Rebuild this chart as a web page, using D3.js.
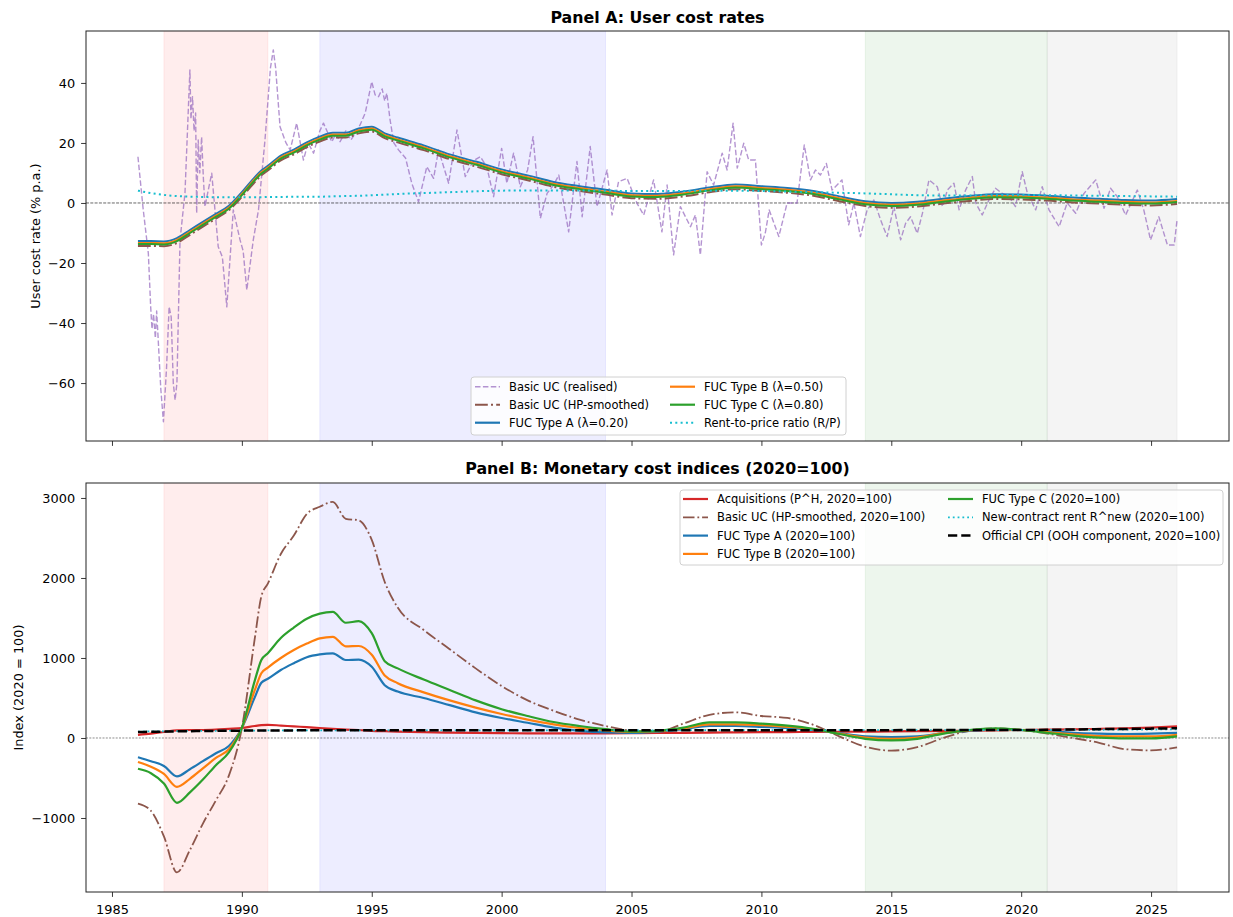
<!DOCTYPE html>
<html>
<head>
<meta charset="utf-8">
<script src="https://cdn.jsdelivr.net/npm/d3@7"></script>
<style>
body{margin:0;background:#fff;}
svg text{font-family:"DejaVu Sans",sans-serif;fill:#000;}
</style>
</head>
<body>
<svg id="chart" width="1233" height="917"></svg>
<script>
// realised basic user cost (irregular sampling)
var realisedYears = [1986.0,1986.2,1986.4,1986.49,1986.54,1986.6,1986.67,1986.72,1986.77,1986.88,1986.98,1987.1,1987.2,1987.28,1987.36,1987.43,1987.5,1987.62,1987.81,
  1988.0,1988.04,1988.1,1988.16,1988.22,1988.26,1988.32,1988.38,1988.45,1988.52,1988.58,1988.7,1988.84,1989.09,1989.25,1989.42,1989.67,1989.93,
  1990.05,1990.19,1990.44,1990.64,1990.89,1991.1,1991.21,1991.3,1991.47,1991.7,1991.86,1992.11,1992.37,1992.55,1992.76,1993.0,1993.14,1993.46,1993.62,1993.78,
  1994.0,1994.2,1994.35,1994.55,1994.75,1995.0,1995.13,1995.26,1995.4,1995.5,1995.58,1995.7,1995.85,1996.03,1996.3,1996.54,1996.8,1997.12,1997.38,1997.57,1997.96,
  1998.28,1998.6,1998.9,1999.18,1999.43,1999.69,2000.0,2000.2,2000.46,2000.72,2001.0,2001.21,2001.49,2001.75,2002.0,2002.2,2002.58,2002.9,2003.1,2003.41,2003.67,
  2004.06,2004.25,2004.5,2004.83,2005.21,2005.47,2005.85,2006.17,2006.37,2006.62,2006.88,2007.27,2007.46,2007.65,2007.91,2008.16,2008.49,2008.68,2008.91,
  2009.07,2009.32,2009.51,2009.77,2010.0,2010.15,2010.3,2010.67,2010.99,2011.37,2011.65,2011.89,2012.08,2012.27,2012.5,2012.72,2013.1,2013.36,2013.56,2013.81,
  2014.07,2014.33,2014.59,2014.84,2015.1,2015.36,2015.55,2015.74,2016.0,2016.2,2016.45,2016.77,2016.97,2017.16,2017.41,2017.61,2017.86,2018.12,2018.25,2018.5,2018.76,
  2019.01,2019.27,2019.53,2019.78,2020.04,2020.24,2020.56,2020.81,2021.07,2021.46,2021.77,2022.1,2022.42,2022.87,2023.19,2023.44,2023.7,2024.02,2024.47,2024.72,2024.98,
  2025.3,2025.63,2025.89,2026.0];
var realisedValues = [15.4,-2,-16.8,-34.6,-42,-37,-45,-36,-44,-62,-72.9,-55,-34.6,-38,-60,-65.7,-60,-12.3,3.3,
  44.3,28,35.4,24,30,-3.4,21,10,22,8,-1.2,4,9.9,-14.6,-18,-34.6,-2.3,-12.3,
  -16,-29,-12.3,-2.3,21,45,51,45,25.4,20,17.7,26.6,14.3,20,16.6,24,26.6,20.4,23,20.4,
  24,21,23,26,30,40.4,36,35.4,38,34,36.6,28,20,17.7,15,6.6,0.4,12.1,8.2,17.7,6.6,
  24.3,8.8,14,15.4,12,2.1,18.2,6.6,16.6,5.4,11,22.1,-5.1,3.2,6,9.3,-9.6,13.8,-4.6,18.8,-1.2,
  11,-4,7.1,8.2,-0.1,-4,7.7,-9.6,6,-17.3,-1.2,-7.9,-4,-17.3,10.4,6,16.6,11,26.6,
  11.6,19.9,14.3,14.3,-14,-10,-2.3,-11.2,0,0,19.3,7.7,11,9.3,13.2,4.3,7.7,-7.3,0,-11.2,
  -2.3,1,-5.7,-11.2,-1.2,-12.3,-6.8,-4.6,-10.1,-3.4,7.7,5.4,-1.2,4.3,6.6,-2.3,4.3,8.8,0,-4,1,
  4.9,3.2,2.1,-1.2,10.4,3.2,-2.3,5.4,-2.3,-7.9,0,-3.4,3.2,7.7,-1.8,4.9,2.1,-4,4.3,-2.3,-12.3,
  -4.6,-14,-14,-5.7];

// common grid for the smooth series (half-yearly to 1996, then yearly)
var gridYears = [1986,1986.5,1987,1987.5,1988,1988.5,1989,1989.5,1990,1990.5,1990.75,1991,1991.5,1992,1992.5,1993,1993.5,1994,1994.5,1995,1995.5,1996,
  1997,1998,1999,2000,2001,2002,2003,2004,2005,2006,2007,2008,2009,2010,2011,2012,2013,2014,2015,2016,2017,2018,2019,2020,2021,2022,2023,2024,2025,2026];

// Panel A rates (% p.a.)
var hpRate = [-14.3,-14.3,-14.4,-13.3,-10.6,-7.9,-5.2,-2.4,2.0,7.0,9.2,10.8,14.2,16.2,18.6,20.5,21.8,21.8,23.2,23.8,21.6,20.2,
  17.6,14.6,12.2,9.6,7.6,5.4,4.0,2.8,1.6,1.4,2.2,3.6,4.6,4.0,3.4,2.4,0.6,-1.0,-1.6,-1.2,-0.2,0.7,1.3,1.2,0.8,0.2,-0.2,-0.6,-0.8,-0.3];
var fucARate = [-12.7,-12.7,-12.8,-11.7,-9.0,-6.3,-3.6,-0.9,3.6,8.6,10.8,12.4,15.8,17.8,20.2,22.1,23.4,23.4,24.8,25.4,23.2,21.8,
  19.2,16.2,13.8,11.2,9.2,7.0,5.6,4.4,3.2,3.0,3.8,5.2,6.2,5.6,5.0,4.0,2.2,0.6,0.0,0.4,1.4,2.3,2.9,2.8,2.4,1.8,1.4,1.0,0.8,1.3];
var fucBRate = [-13.3,-13.3,-13.4,-12.3,-9.6,-6.9,-4.2,-1.5,3.0,8.0,10.2,11.8,15.2,17.2,19.6,21.5,22.8,22.8,24.2,24.8,22.6,21.2,
  18.6,15.6,13.2,10.6,8.6,6.4,5.0,3.8,2.6,2.4,3.2,4.6,5.6,5.0,4.4,3.4,1.6,0.0,-0.6,-0.2,0.8,1.7,2.3,2.2,1.8,1.2,0.8,0.4,0.2,0.7];
var fucCRate = [-13.7,-13.7,-13.8,-12.7,-10.0,-7.3,-4.6,-1.9,2.6,7.6,9.8,11.4,14.8,16.8,19.2,21.1,22.4,22.4,23.8,24.4,22.2,20.8,
  18.2,15.2,12.8,10.2,8.2,6.0,4.6,3.4,2.2,2.0,2.8,4.2,5.2,4.6,4.0,3.0,1.2,-0.4,-1.0,-0.6,0.4,1.3,1.9,1.8,1.4,0.8,0.4,0.0,-0.2,0.3];
var rentPrice = [4.1,3.3,2.7,2.3,2.1,2.0,1.9,1.9,1.9,1.9,1.9,2.0,2.0,2.1,2.1,2.1,2.2,2.3,2.4,2.6,2.8,3.0,
  3.3,3.6,3.9,4.1,4.2,4.2,4.2,4.1,4.0,4.0,4.0,4.1,4.1,4.0,3.8,3.6,3.4,3.2,2.9,2.6,2.5,2.5,2.6,2.7,2.6,2.5,2.4,2.3,2.2,2.1];

// Panel B indices (2020=100)
var acqIndex = [40,55,75,95,100,100,105,115,125,150,160,165,155,145,135,125,115,105,100,90,85,80,
  72,67,63,60,58,58,58,58,60,62,65,68,70,72,74,76,78,80,82,85,88,92,96,100,104,108,113,120,130,145];
var hpIndex = [-820,-910,-1230,-1680,-1400,-1070,-780,-470,125,1250,1770,1930,2300,2530,2800,2890,2950,2740,2720,2475,1950,1630,
  1350,1110,870,650,470,340,230,150,92,75,180,290,320,275,250,165,20,-110,-158,-115,0,90,120,100,55,0,-60,-140,-155,-117];
var fucAIndex = [-240,-290,-350,-480,-390,-290,-190,-100,125,510,690,740,850,935,1010,1045,1058,975,980,890,660,580,
  500,410,320,250,190,130,90,70,65,80,110,150,150,140,125,100,60,20,10,20,60,90,105,100,85,65,55,50,55,65];
var fucBIndex = [-300,-360,-450,-610,-510,-380,-250,-140,125,600,810,880,1000,1100,1180,1245,1265,1145,1150,1040,780,685,
  570,470,380,300,230,170,125,95,75,85,120,170,170,160,140,110,55,5,-10,5,60,95,110,100,75,45,25,20,20,40];
var fucCIndex = [-385,-440,-570,-810,-680,-520,-340,-180,125,720,975,1060,1250,1380,1490,1555,1575,1440,1460,1310,960,870,
  730,600,470,360,275,200,150,110,80,90,130,195,195,180,155,115,50,-10,-30,-10,55,100,120,100,65,30,5,-5,-5,20];
var rnewIndex = [80,82,84,86,88,89,90,91,92,93,93,94,94,95,95,96,96,96,96,96,96,96,
  96,96,96,96,96,96,96,96,96,96,97,97,97,97,97,97,97,97,97,98,98,99,99,100,101,102,103,104,106,108];
var cpiIndex = [75,78,80,83,85,87,89,91,92,93,93,94,95,95,96,96,97,97,97,97,97,97,
  97,97,97,97,97,97,97,97,97,97,98,98,98,98,98,98,98,98,98,99,99,99,99,100,102,106,110,113,117,121];

// shaded periods
var periodStart = [1987,1993,2014,2021];
var periodEnd = [1991,2004,2021,2026];
var periodColor = ["#ff0000","#0000ff","#008000","#808080"];
var periodAlpha = [0.07,0.07,0.07,0.09];

var xTicks = [1985,1990,1995,2000,2005,2010,2015,2020,2025];
var yTicksA = [-60,-40,-20,0,20,40];
var yTicksB = [-1000,0,1000,2000,3000];

var svg = d3.select("#chart");
var x = d3.scaleLinear().domain([1984,2028]).range([86,1229]);
var yA = d3.scaleLinear().domain([-79.3,57.3]).range([441,31]);
var yB = d3.scaleLinear().domain([-1925,3187]).range([892,483]);

var drawPanel = function(id, y, yTicks, showXLabels){
  var top = y.range()[1], bottom = y.range()[0];
  svg.append("clipPath").attr("id","clip"+id)
    .append("rect").attr("x",86).attr("y",top).attr("width",1143).attr("height",bottom-top);
  var g = svg.append("g");
  var plot = g.append("g").attr("clip-path","url(#clip"+id+")");
  periodStart.forEach(function(s,i){
    plot.append("rect")
      .attr("x",x(s)).attr("y",top-2)
      .attr("width",x(periodEnd[i])-x(s)).attr("height",bottom-top+4)
      .attr("fill",periodColor[i]).attr("fill-opacity",periodAlpha[i])
      .attr("stroke",periodColor[i]).attr("stroke-opacity",periodAlpha[i]);
  });
  // axes
  var xa = d3.axisBottom(x).tickValues(xTicks).tickSize(4.9).tickPadding(8.3).tickSizeOuter(0);
  if(!showXLabels){ xa.tickFormat(""); } else { xa.tickFormat(d3.format("d")); }
  g.append("g").attr("transform","translate(0,"+bottom+")").call(xa);
  g.append("g").attr("transform","translate(86,0)")
    .call(d3.axisLeft(y).tickValues(yTicks).tickFormat(d3.format("d")).tickSize(4.9).tickPadding(6).tickSizeOuter(0));
  g.selectAll(".domain").remove();
  g.selectAll(".tick line").attr("stroke","#222").attr("stroke-width",0.9);
  g.selectAll(".tick text").attr("font-size","12.9px").attr("font-family","DejaVu Sans").attr("fill","#000");
  return {g:g, plot:plot, top:top, bottom:bottom};
};

var drawLine = function(plot, y, years, values, color, width, dash, opacity, curve){
  var line = d3.line()
    .x(function(d,i){ return x(years[i]); })
    .y(function(d){ return y(d); })
    .curve(curve || d3.curveLinear);
  plot.append("path").datum(values)
    .attr("d",line)
    .attr("fill","none")
    .attr("stroke",color)
    .attr("stroke-width",width)
    .attr("stroke-dasharray",dash)
    .attr("stroke-opacity",opacity)
    .attr("stroke-linejoin","round");
};

var drawLegend = function(g, bx, by, bw, bh, items){
  g.append("rect").attr("x",bx).attr("y",by).attr("width",bw).attr("height",bh)
    .attr("rx",3).attr("fill","#fff").attr("fill-opacity",0.8)
    .attr("stroke","#d0d0d0").attr("stroke-width",1);
  items.forEach(function(it){
    g.append("line").attr("x1",it.hx).attr("x2",it.hx+25).attr("y1",it.y).attr("y2",it.y)
      .attr("stroke",it.color).attr("stroke-width",it.width)
      .attr("stroke-dasharray",it.dash).attr("stroke-opacity",it.opacity);
    g.append("text").attr("x",it.hx+34).attr("y",it.y).attr("dy","0.36em")
      .attr("font-size","11.5px").text(it.label);
  });
};

var frame = function(p){
  p.g.append("rect").attr("x",86).attr("y",p.top).attr("width",1143).attr("height",p.bottom-p.top)
    .attr("fill","none").attr("stroke","#222").attr("stroke-width",1);
};

var curve = d3.curveMonotoneX;

// ---------- Panel A
var pA = drawPanel("A", yA, yTicksA, false);
pA.plot.append("line").attr("x1",86).attr("x2",1229).attr("y1",yA(0)).attr("y2",yA(0))
  .attr("stroke","#000").attr("stroke-opacity",0.75).attr("stroke-width",0.8).attr("stroke-dasharray","3,1.3");
drawLine(pA.plot, yA, realisedYears, realisedValues, "#9467bd", 1.4, "5.5,2.4", 0.7);
drawLine(pA.plot, yA, gridYears, hpRate, "#8c564b", 2, "12.8,3.2,2,3.2", 1, curve);
drawLine(pA.plot, yA, gridYears, fucARate, "#1f77b4", 2, null, 1, curve);
drawLine(pA.plot, yA, gridYears, fucBRate, "#ff7f0e", 2, null, 1, curve);
drawLine(pA.plot, yA, gridYears, fucCRate, "#2ca02c", 2, null, 1, curve);
drawLine(pA.plot, yA, gridYears, rentPrice, "#17becf", 2, "2,3.3", 1, curve);
frame(pA);
pA.g.append("text").attr("x",657.5).attr("y",23).attr("text-anchor","middle")
  .attr("font-size","15.8px").attr("font-weight","bold").text("Panel A: User cost rates");
pA.g.append("text").attr("transform","translate(35,236) rotate(-90)").attr("text-anchor","middle")
  .attr("dy","0.35em").attr("font-size","12.9px").text("User cost rate (% p.a.)");
drawLegend(pA.g, 471, 377, 375, 58, [
  {hx:475, y:386.7, color:"#9467bd", width:1.4, dash:"5.5,2.4", opacity:0.7, label:"Basic UC (realised)"},
  {hx:475, y:404.7, color:"#8c564b", width:2, dash:"12.8,3.2,2,3.2", opacity:1, label:"Basic UC (HP-smoothed)"},
  {hx:475, y:422.7, color:"#1f77b4", width:2.2, dash:null, opacity:1, label:"FUC Type A (\u03bb=0.20)"},
  {hx:670, y:386.7, color:"#ff7f0e", width:2.2, dash:null, opacity:1, label:"FUC Type B (\u03bb=0.50)"},
  {hx:670, y:404.7, color:"#2ca02c", width:2.2, dash:null, opacity:1, label:"FUC Type C (\u03bb=0.80)"},
  {hx:670, y:422.7, color:"#17becf", width:2, dash:"2,3.3", opacity:1, label:"Rent-to-price ratio (R/P)"}
]);

// ---------- Panel B
var pB = drawPanel("B", yB, yTicksB, true);
pB.plot.append("line").attr("x1",86).attr("x2",1229).attr("y1",yB(0)).attr("y2",yB(0))
  .attr("stroke","#000").attr("stroke-opacity",0.5).attr("stroke-width",0.9).attr("stroke-dasharray","2,1.3");
drawLine(pB.plot, yB, gridYears, acqIndex, "#d62728", 2.2, null, 1, curve);
drawLine(pB.plot, yB, gridYears, hpIndex, "#8c564b", 1.8, "11.5,2.9,1.8,2.9", 1, curve);
drawLine(pB.plot, yB, gridYears, fucAIndex, "#1f77b4", 2.2, null, 1, curve);
drawLine(pB.plot, yB, gridYears, fucBIndex, "#ff7f0e", 2.2, null, 1, curve);
drawLine(pB.plot, yB, gridYears, fucCIndex, "#2ca02c", 2.2, null, 1, curve);
drawLine(pB.plot, yB, gridYears, rnewIndex, "#17becf", 1.8, "1.8,3", 1, curve);
drawLine(pB.plot, yB, gridYears, cpiIndex, "#000", 2.5, "9.25,4", 1, curve);
frame(pB);
pB.g.append("text").attr("x",657.5).attr("y",474).attr("text-anchor","middle")
  .attr("font-size","15.8px").attr("font-weight","bold").text("Panel B: Monetary cost indices (2020=100)");
pB.g.append("text").attr("transform","translate(18,687.5) rotate(-90)").attr("text-anchor","middle")
  .attr("dy","0.35em").attr("font-size","12.9px").text("Index (2020 = 100)");
drawLegend(pB.g, 680, 490, 543, 75, [
  {hx:683, y:499, color:"#d62728", width:2.2, dash:null, opacity:1, label:"Acquisitions (P^H, 2020=100)"},
  {hx:683, y:517.3, color:"#8c564b", width:1.8, dash:"11.5,2.9,1.8,2.9", opacity:1, label:"Basic UC (HP-smoothed, 2020=100)"},
  {hx:683, y:535.6, color:"#1f77b4", width:2.2, dash:null, opacity:1, label:"FUC Type A (2020=100)"},
  {hx:683, y:553.9, color:"#ff7f0e", width:2.2, dash:null, opacity:1, label:"FUC Type B (2020=100)"},
  {hx:948, y:499, color:"#2ca02c", width:2.2, dash:null, opacity:1, label:"FUC Type C (2020=100)"},
  {hx:948, y:517.3, color:"#17becf", width:1.8, dash:"1.8,3", opacity:1, label:"New-contract rent R^new (2020=100)"},
  {hx:948, y:535.6, color:"#000", width:2.5, dash:"9.25,4", opacity:1, label:"Official CPI (OOH component, 2020=100)"}
]);
</script>
</body>
</html>
